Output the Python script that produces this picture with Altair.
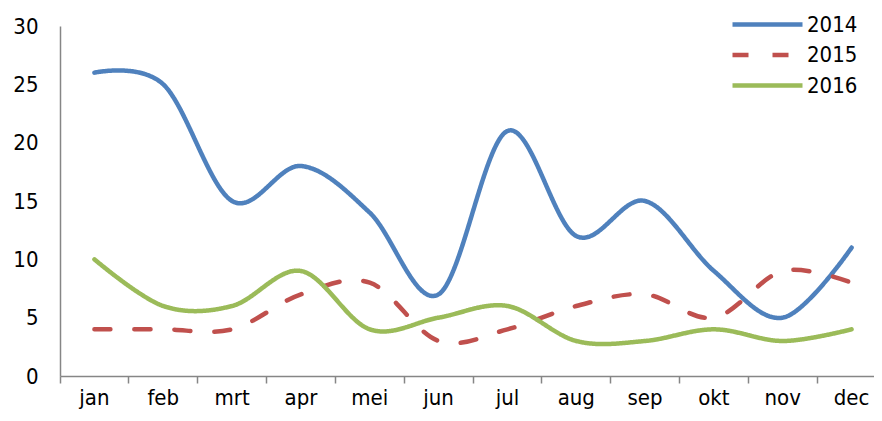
import altair as alt
import pandas as pd

months = ["jan", "feb", "mrt", "apr", "mei", "jun", "jul", "aug", "sep", "okt", "nov", "dec"]
years = ["2014", "2015", "2016"]
v2014 = [26, 25, 15, 18, 14, 7, 21, 12, 15, 9, 5, 11]
v2015 = [4, 4, 4, 7, 8, 3, 4, 6, 7, 5, 9, 8]
v2016 = [10, 6, 6, 9, 4, 5, 6, 3, 3, 4, 3, 4]
colors = ["#4F81BD", "#C0504D", "#9BBB59"]
y_ticks = [0, 5, 10, 15, 20, 25, 30]

rows = []
for yr, vals in zip(years, [v2014, v2015, v2016]):
    for m, v in zip(months, vals):
        rows.append({"maand": m, "jaar": yr, "waarde": v})
df = pd.DataFrame(rows)

FONT = "Tahoma, 'DejaVu Sans Condensed', 'DejaVu Sans', sans-serif"

legend = alt.Legend(
    title=None, orient="none", legendX=695, legendY=-14,
    symbolType="M-3.5,0H3.5", symbolSize=400, symbolStrokeWidth=4.5,
    labelFont=FONT, labelFontSize=22, labelColor="black",
    rowPadding=6.5, labelOffset=27, padding=0,
)

chart = alt.Chart(df).mark_line(
    interpolate="cardinal", strokeWidth=4.5, strokeCap="round"
).encode(
    x=alt.X("maand:N", sort=months, bandPosition=0.5,
            scale=alt.Scale(type="band", paddingInner=0, paddingOuter=0, range=[0, 826]),
            axis=alt.Axis(title=None, bandPosition=0, labelAngle=0,
                          domainColor="#868686", domainWidth=1.5,
                          tickColor="#868686", tickWidth=1.5, tickSize=7,
                          labelPadding=4, labelFont=FONT, labelFontSize=22,
                          labelColor="black", grid=False)),
    y=alt.Y("waarde:Q", scale=alt.Scale(domain=[0, 30], nice=False),
            axis=alt.Axis(title=None, values=y_ticks, ticks=False,
                          domainColor="#868686", domainWidth=1.5,
                          labelPadding=22, labelFont=FONT, labelFontSize=22,
                          labelColor="black", grid=False)),
    color=alt.Color("jaar:N", scale=alt.Scale(domain=years, range=colors), legend=legend),
    strokeDash=alt.StrokeDash("jaar:N",
                              scale=alt.Scale(domain=years, range=[[1, 0], [16, 24], [1, 0]]),
                              legend=legend),
).properties(
    width=814, height=350,
    autosize=alt.AutoSizeParams(type="none"),
    padding={"left": 52, "top": 18, "right": 0, "bottom": 37},
).configure_view(stroke=None)

chart.save("out.html", embed_options={"renderer": "svg", "actions": False})
